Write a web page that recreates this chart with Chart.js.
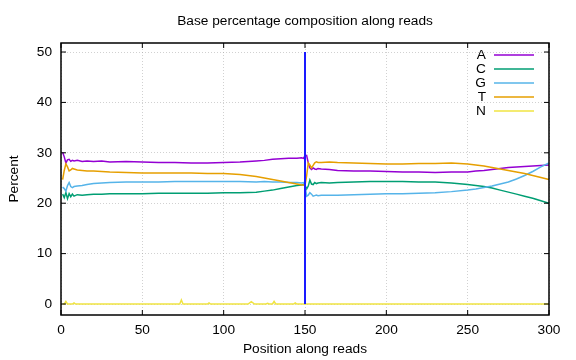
<!DOCTYPE html>
<html>
<head>
<meta charset="utf-8">
<script src="https://cdn.jsdelivr.net/npm/chart.js@4/dist/chart.umd.min.js"></script>
<style>
  html, body { margin:0; padding:0; background:#fff; }
</style>
</head>
<body>
<canvas id="chart" width="576" height="360"></canvas>
<script>
// Positions le long des reads (échantillonnées, plus denses aux débuts de reads)
const pos = [1,2,3,4,5,6,7,8,10,13,16,20,25,30,40,50,60,70,80,90,100,110,120,125,130,135,140,145,148,149,
             150,151,152,153,154,155,156,157,158,160,165,170,180,190,200,210,220,230,240,250,255,260,265,270,275,280,285,290,295,300];

// Pourcentage de chaque base
const baseA = [30.1,29.2,28.0,28.6,28.7,28.3,28.5,28.4,28.5,28.3,28.4,28.3,28.4,28.2,28.3,28.2,28.1,28.1,28.0,28.0,28.1,28.2,28.4,28.5,28.7,28.8,28.9,28.9,29.0,28.9,
               29.4,29.5,28.0,27.0,26.7,27.0,26.8,26.7,26.9,26.8,26.7,26.5,26.4,26.4,26.3,26.2,26.2,26.1,26.2,26.2,26.4,26.5,26.7,26.9,27.1,27.2,27.3,27.4,27.5,27.6];
const baseC = [21.8,21.1,22.1,20.9,21.9,21.3,21.8,21.4,21.7,21.6,21.7,21.8,21.8,21.9,21.9,21.9,22.0,22.0,22.0,22.0,22.1,22.1,22.2,22.4,22.6,22.9,23.2,23.5,23.6,23.7,
               23.6,22.8,23.4,24.6,23.8,23.7,24.1,23.9,24.0,24.1,24.0,24.1,24.2,24.3,24.3,24.3,24.2,24.2,24.0,23.7,23.5,23.3,23.0,22.6,22.2,21.8,21.4,21.0,20.5,20.0];
const baseG = [23.2,22.9,22.4,23.5,24.1,23.3,23.1,23.3,23.4,23.5,23.7,23.9,24.0,24.1,24.2,24.2,24.2,24.3,24.3,24.3,24.3,24.3,24.2,24.3,24.2,24.2,24.1,24.1,24.0,24.1,
               23.5,21.4,21.6,22.1,21.8,21.4,21.5,21.6,21.5,21.6,21.6,21.6,21.7,21.8,21.9,21.9,22.0,22.1,22.3,22.6,22.8,23.1,23.4,23.8,24.2,24.8,25.5,26.3,27.2,28.0];
const baseT = [24.7,26.5,27.8,27.2,26.4,26.6,26.9,26.8,26.6,26.5,26.4,26.4,26.3,26.2,26.1,26.0,26.0,26.0,26.0,25.9,25.9,25.7,25.3,25.0,24.7,24.4,24.1,23.8,23.6,23.6,
               23.5,25.4,28.0,27.6,27.0,27.5,28.0,28.2,28.1,28.1,28.2,28.1,28.0,27.9,27.8,27.8,27.9,27.9,28.0,27.8,27.6,27.4,27.1,26.8,26.5,26.2,25.9,25.5,25.1,24.7];

// N : quasi nul, quelques petits pics
const nPos = [1,2,3,4,7,8,9,73,74,75,90,91,92,115,117,119,126,127,128,130,131,132,143,144,145,300];
const baseN = [0,0,0.5,0,0,0.2,0,0,0.8,0,0,0.2,0,0,0.45,0,0,0.15,0,0,0.5,0,0,0.2,0,0];

// Séparateur entre read 1 et read 2
const sepX = [150,150];
const sepY = [0,50];

const xTicks = [0,50,100,150,200,250,300];
const yTicks = [0,10,20,30,40,50];

const labels = ['A','C','G','T','N'];
const colors = ['#9400d3','#009e73','#56b4e9','#e69f00','#f0e442'];
const TITLE = 'Base percentage composition along reads';

const FONT = { family:"'Liberation Sans', Arial, sans-serif", size:13.7 };

const pts = (xs, ys) => xs.map((x, i) => ({ x, y: ys[i] }));
const series = [baseA, baseC, baseG, baseT];

const datasets = series.map((s, i) => ({
  label: labels[i], data: pts(pos, s), borderColor: colors[i], borderWidth: 1.5,
  pointRadius: 0, tension: 0, fill: false, order: 5 - i
}));
datasets.push({ label:'N', data: pts(nPos, baseN), borderColor: colors[4], borderWidth: 1.5, pointRadius: 0, fill: false, order: 1 });
datasets.push({ label:'sep', data: pts(sepX, sepY), borderColor: '#1a1aff', borderWidth: 2, pointRadius: 0, fill: false, order: 0 });

// Cadre noir + graduations vers l'intérieur (style gnuplot) + titre + légende
const framePlugin = {
  id: 'frame',
  afterDraw(chart) {
    const { ctx, chartArea: a, scales: { x, y } } = chart;
    ctx.save();
    ctx.strokeStyle = '#000'; ctx.lineWidth = 1.5;
    ctx.strokeRect(a.left, a.top, a.right - a.left, a.bottom - a.top);
    ctx.lineWidth = 1;
    ctx.beginPath();
    xTicks.forEach(v => {
      const px = x.getPixelForValue(v);
      ctx.moveTo(px, a.bottom); ctx.lineTo(px, a.bottom - 5);
      ctx.moveTo(px, a.top);    ctx.lineTo(px, a.top + 5);
    });
    yTicks.forEach(v => {
      const py = y.getPixelForValue(v);
      ctx.moveTo(a.left, py);  ctx.lineTo(a.left + 5, py);
      ctx.moveTo(a.right, py); ctx.lineTo(a.right - 5, py);
    });
    ctx.stroke();

    ctx.font = `${FONT.size}px ${FONT.family}`;
    ctx.fillStyle = '#000'; ctx.textBaseline = 'middle';
    // titre centré sur la zone du graphique
    ctx.textAlign = 'center';
    ctx.fillText(TITLE, (a.left + a.right) / 2, 21);

    // légende
    ctx.textAlign = 'right';
    labels.forEach((l, i) => {
      const ly = 55 + i * 14;
      ctx.fillText(l, 486, ly);
      ctx.strokeStyle = colors[i]; ctx.lineWidth = 1.5;
      ctx.beginPath(); ctx.moveTo(494, ly); ctx.lineTo(534, ly); ctx.stroke();
    });
    ctx.restore();
  }
};

new Chart(document.getElementById('chart'), {
  type: 'line',
  data: { datasets },
  plugins: [framePlugin],
  options: {
    responsive: false, animation: false, devicePixelRatio: 1,
    layout: { padding: { left: 0, right: 27, top: 43, bottom: 0 } },
    plugins: { legend: { display: false }, tooltip: { enabled: false }, title: { display: false } },
    scales: {
      x: {
        type: 'linear', min: 0, max: 300,
        afterBuildTicks: s => { s.ticks = xTicks.map(v => ({ value: v })); },
        afterFit: s => { s.height = 45; },
        grid: { color: 'rgba(150,150,150,0.55)', lineWidth: 0.8, drawTicks: false },
        border: { display: false, dash: [1, 2] },
        ticks: { color: '#000', font: FONT, padding: 7, maxRotation: 0 },
        title: { display: true, text: 'Position along reads', color: '#000', font: FONT, padding: { top: 0, bottom: 3 } }
      },
      y: {
        type: 'linear', min: -2.18, max: 51.79,
        afterBuildTicks: s => { s.ticks = yTicks.map(v => ({ value: v })); },
        afterFit: s => { s.width = 61; },
        grid: { color: 'rgba(150,150,150,0.55)', lineWidth: 0.8, drawTicks: false },
        border: { display: false, dash: [1, 2] },
        ticks: { color: '#000', font: FONT, padding: 9 },
        title: { display: true, text: 'Percent', color: '#000', font: FONT, padding: { top: 6, bottom: 0 } }
      }
    }
  }
});
</script>
</body>
</html>
